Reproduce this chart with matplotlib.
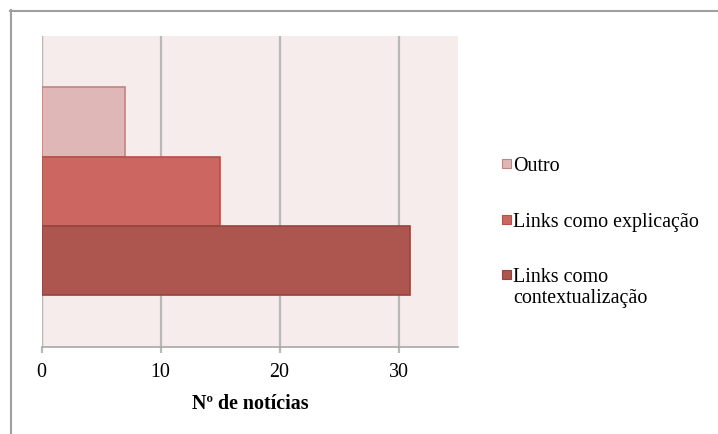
import matplotlib
matplotlib.use('Agg')
import matplotlib.pyplot as plt
from matplotlib.patches import Rectangle
from matplotlib.lines import Line2D

plt.rcParams['font.family'] = ['Liberation Serif', 'DejaVu Serif']

# dados
series = ['Outro', 'Links como explicação', 'Links como\ncontextualização']
valores = [7, 15, 31]
cores = ['#DFB7B6', '#CC6660', '#AD554F']
bordas = ['#C2847F', '#B4514B', '#97443E']
xticks = [0, 10, 20, 30]
xlabel = 'Nº de notícias'

FS = 14.4

fig = plt.figure(figsize=(7.18, 4.34), dpi=100)
ax = fig.add_axes([0.058, 0.201, 0.58, 0.716])
ax.set_facecolor('#F5ECEB')

n = len(series)
for i, (v, c, b) in enumerate(zip(valores, cores, bordas)):
    # primeira serie em cima
    ax.barh((n - 1) / 2 - i, v, height=1.0, color=c, edgecolor=b, linewidth=1.2, zorder=3)

ax.set_xlim(0, 35)
ax.set_ylim(-2.24, 2.24)
ax.set_xticks(xticks)
ax.set_yticks([])
ax.grid(axis='x', color='#B8B8B8', linewidth=1.6, zorder=1)
ax.set_axisbelow(True)
for s in ['top', 'right', 'left']:
    ax.spines[s].set_visible(False)
ax.spines['bottom'].set_color('#A8A8A8')
ax.spines['bottom'].set_linewidth(1.2)
ax.axvline(0, color='#B8B8B8', linewidth=1.6, zorder=1)
ax.tick_params(axis='x', length=4, width=1.6, color='#B8B8B8', labelsize=FS, pad=8)
ax.set_xlabel(xlabel, fontsize=FS, fontweight='bold', labelpad=8)

# moldura (so topo e esquerda visiveis)
fig.add_artist(Line2D([10 / 718, 1], [1 - 10.5 / 434] * 2, color='#A0A0A0', lw=1.5))
fig.add_artist(Line2D([10.5 / 718] * 2, [0, 1 - 10 / 434], color='#A0A0A0', lw=1.5))

# legenda
W, H = 718, 434
tops = [159, 215, 270]
for lab, c, b, t in zip(series, cores, bordas, tops):
    fig.add_artist(Rectangle((502 / W, 1 - (t + 9) / H), 9 / W, 9 / H,
                             facecolor=c, edgecolor=b, lw=0.8))
    fig.text(513 / W, 1 - (t - 2) / H, lab, fontsize=FS, va='top', ha='left',
             linespacing=1.15)

fig.savefig('out.png', dpi=100, facecolor='white')
